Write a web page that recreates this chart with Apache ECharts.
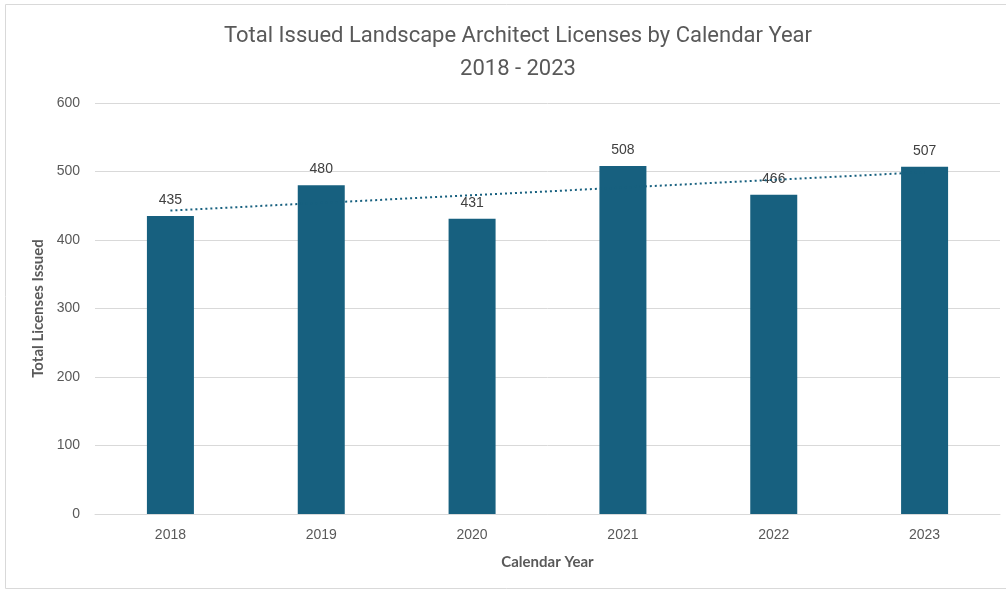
<!DOCTYPE html>
<html>
<head>
<meta charset="utf-8">
<style>
    html, body { margin: 0; padding: 0; background: #fff; }
    #chart { width: 1006px; height: 590px; }
</style>
<script src="https://cdn.jsdelivr.net/npm/echarts@6/dist/echarts.min.js"></script>
</head>
<body>
<div id="chart"></div>
<script>
// data
const years = ['2018', '2019', '2020', '2021', '2022', '2023'];
const licenses = [435, 480, 431, 508, 466, 507];
// linear trendline, ends
const trendEnds = [443, 499];
const yTicks = [0, 100, 200, 300, 400, 500, 600];

const barColor = '#17607f';
const textColor = '#595959';

const chart = echarts.init(document.getElementById('chart'));

const option = {
    animation: false,
    // outer chart frame
    graphic: [{
        type: 'rect',
        shape: { x: 5.5, y: 4.5, width: 1010, height: 584 },
        style: { fill: 'none', stroke: '#d9d9d9', lineWidth: 1 },
        silent: true
    }],
    title: {
        text: 'Total Issued Landscape Architect Licenses by Calendar Year\n2018 - 2023',
        left: 513,
        textAlign: 'center',
        top: 15,
        textStyle: {
            fontFamily: 'Roboto, sans-serif',
            fontWeight: 'normal',
            fontSize: 22,
            lineHeight: 33,
            color: textColor
        }
    },
    grid: { left: 95, right: 6, top: 103, bottom: 76, containLabel: false },
    xAxis: {
        type: 'category',
        data: years,
        name: 'Calendar Year',
        nameLocation: 'middle',
        nameGap: 41,
        nameTextStyle: { fontFamily: 'Lato, sans-serif', fontWeight: 'bold', fontSize: 15, color: textColor },
        axisLine: { lineStyle: { color: '#d9d9d9', width: 1 } },
        axisTick: { show: false },
        axisLabel: { fontFamily: 'Liberation Sans, Arial, sans-serif', fontSize: 14, color: textColor, margin: 14 }
    },
    yAxis: {
        type: 'value',
        min: yTicks[0],
        max: yTicks[yTicks.length - 1],
        interval: 100,
        name: 'Total Licenses Issued',
        nameLocation: 'middle',
        nameGap: 46,
        nameTextStyle: { fontFamily: 'Lato, sans-serif', fontWeight: 'bold', fontSize: 15, color: textColor },
        axisLine: { show: false },
        axisTick: { show: false },
        splitLine: { lineStyle: { color: '#d9d9d9', width: 1 } },
        axisLabel: { fontFamily: 'Liberation Sans, Arial, sans-serif', fontSize: 14, color: textColor, margin: 15 }
    },
    series: [{
        name: 'Licenses',
        type: 'bar',
        data: licenses,
        barWidth: 47,
        itemStyle: { color: barColor },
        label: {
            show: true,
            position: 'top',
            distance: 9,
            fontFamily: 'Liberation Sans, Arial, sans-serif',
            fontSize: 14,
            color: '#404040'
        },
        z: 2
    }, {
        name: 'Trend',
        type: 'line',
        data: [[0, trendEnds[0]], [years.length - 1, trendEnds[1]]],
        symbol: 'none',
        lineStyle: { color: barColor, width: 2, type: [2, 3] },
        z: 3
    }]
};

chart.setOption(option);
</script>
</body>
</html>
